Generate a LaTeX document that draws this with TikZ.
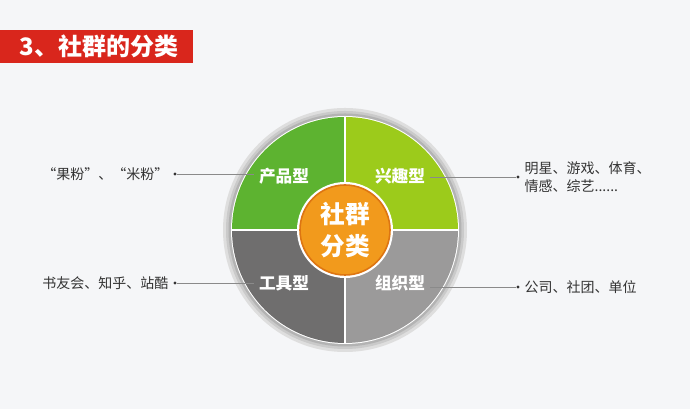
\documentclass[tikz,border=0pt]{standalone}
\usepackage{fontspec}
\setmainfont{Noto Sans CJK SC}
\definecolor{bgcol}{HTML}{F5F6F8}
\definecolor{titlered}{HTML}{D9261C}
\definecolor{qgreen}{HTML}{5DB330}
\definecolor{qlime}{HTML}{9CCB1B}
\definecolor{qdark}{HTML}{6F6E6E}
\definecolor{qlight}{HTML}{9B9A9A}
\definecolor{corange}{HTML}{F29A1C}
\definecolor{cedge}{HTML}{DD7512}
\definecolor{ringlight}{HTML}{DEDEDE}
\definecolor{ringmid}{HTML}{CACACA}
\definecolor{ringdark}{HTML}{B3B3B3}
\definecolor{textgray}{HTML}{333333}
\definecolor{linegray}{HTML}{8A8A8A}
\begin{document}
\begin{tikzpicture}[x=0.75pt,y=0.75pt,
  quadlabel/.style={text=white,font=\bfseries\fontsize{12.5}{14}\selectfont},
  note/.style={text=textgray,font=\fontsize{10.5}{13.5}\selectfont,align=left},
  dot/.style={circle,fill=textgray,inner sep=0pt,minimum size=2.6pt},
  leader/.style={draw=linegray,line width=0.6pt}]
  \useasboundingbox[fill=bgcol] (0,0) rectangle (690,409);
  % title bar
  \fill[titlered] (0,346) rectangle (193,379);
  \node[anchor=west,text=white,font=\bfseries\fontsize{18}{20}\selectfont] (title) at (15,362.5) {3、社群的分类};
  % grey outer ring
  \coordinate (c) at (345,179);
  \fill[ringlight] (c) circle (122);
  \fill[ringmid] (c) circle (119);
  \fill[ringdark] (c) circle (116.5);
  \fill[white] (c) circle (114);
  % four quadrants
  \fill[qgreen] (c) -- ++(180:113) arc (180:90:113) -- cycle;
  \fill[qlime] (c) -- ++(90:113) arc (90:0:113) -- cycle;
  \fill[qlight] (c) -- ++(0:113) arc (0:-90:113) -- cycle;
  \fill[qdark] (c) -- ++(-90:113) arc (-90:-180:113) -- cycle;
  \draw[white,line width=1pt] (345,66) -- (345,292);
  \draw[white,line width=1pt] (232,179) -- (458,179);
  % centre circle
  \fill[white] (c) circle (48);
  \filldraw[fill=corange,draw=cedge,line width=1.2pt] (c) circle (45);
  \node[text=white,font=\bfseries\fontsize{18.5}{24}\selectfont,align=center] (core) at (c) {社群\\分类};
  % quadrant labels
  \node[quadlabel] (product) at (284,233) {产品型};
  \node[quadlabel] (interest) at (400,233) {兴趣型};
  \node[quadlabel] (tool) at (284,126) {工具型};
  \node[quadlabel] (organ) at (400,126) {组织型};
  % leader dots
  \node[dot] (dproduct) at (175,235) {};
  \node[dot] (dinterest) at (518,232) {};
  \node[dot] (dtool) at (175,126) {};
  \node[dot] (dorgan) at (518,122) {};
  \draw[leader] (dproduct) -- (dproduct -| product.west);
  \draw[leader] (dinterest) -- (dinterest -| interest.east);
  \draw[leader] (dtool) -- (dtool -| tool.west);
  \draw[leader] (dorgan) -- (dorgan -| organ.east);
  % notes
  \node[note,anchor=east] (nproduct) at (dproduct.west) {“果粉”、“米粉”};
  \node[note,anchor=west] (ninterest) at (dinterest.east) {明星、游戏、体育、\\情感、综艺......};
  \node[note,anchor=east] (ntool) at (dtool.west) {书友会、知乎、站酷};
  \node[note,anchor=west] (norgan) at (dorgan.east) {公司、社团、单位};
\end{tikzpicture}
\end{document}
